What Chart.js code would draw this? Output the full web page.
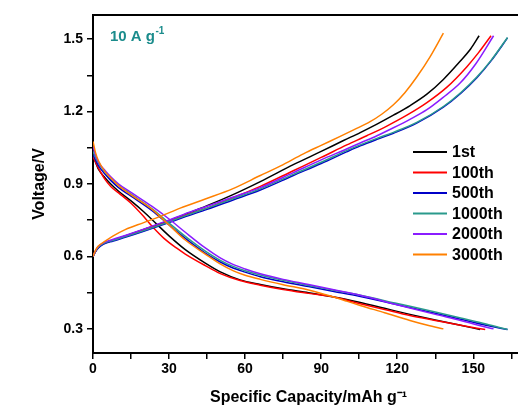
<!DOCTYPE html>
<html>
<head>
<meta charset="utf-8">
<script src="https://cdn.jsdelivr.net/npm/chart.js@4.4.1/dist/chart.umd.min.js"></script>
<style>
    html, body { margin: 0; padding: 0; background: #fff; overflow: hidden; }
    canvas { display: block; }
</style>
</head>
<body>
<canvas id="gcdChart" width="524" height="407"></canvas>
<script>
// Cycle labels and colours
const cycleLabels = ["1st", "100th", "500th", "1000th", "2000th", "3000th"];
const cycleColors = ["#000000", "#ff0000", "#0000c8", "#2a9a8c", "#8a1cff", "#ff8000"];

// Charge curves (capacity mAh/g, voltage V)
const chargeCap1st = [0, 1, 2, 4, 8, 13, 20, 28, 36, 45, 55, 66, 79, 90, 98.8, 105.4, 112, 118.5, 125.1, 131.7, 138.2, 144.8, 149, 152.3];
const chargeV1st = [0.60, 0.622, 0.637, 0.653, 0.668, 0.686, 0.712, 0.741, 0.773, 0.81, 0.855, 0.91, 0.98, 1.035, 1.08, 1.113, 1.148, 1.185, 1.225, 1.272, 1.333, 1.408, 1.46, 1.514];

const chargeCap100th = [0, 1, 2, 4, 8, 13, 20, 28, 36, 45, 55, 66, 79, 90, 100.1, 108, 115.9, 123.8, 131.7, 139.5, 147.4, 152, 157];
const chargeV100th = [0.60, 0.621, 0.636, 0.652, 0.667, 0.684, 0.709, 0.738, 0.769, 0.80, 0.842, 0.89, 0.955, 1.01, 1.062, 1.1, 1.14, 1.185, 1.237, 1.3, 1.385, 1.443, 1.514];

const chargeCap500th = [0, 1, 2, 4, 8, 13, 20, 28, 36, 45, 55, 66, 79, 90, 100, 105.4, 112, 118.5, 127.7, 138.2, 145, 151.4, 157, 163.5];
const chargeV500th = [0.60, 0.62, 0.634, 0.65, 0.664, 0.68, 0.704, 0.733, 0.763, 0.795, 0.833, 0.875, 0.935, 0.985, 1.033, 1.058, 1.085, 1.11, 1.152, 1.218, 1.275, 1.34, 1.41, 1.505];

const chargeCap1000th = [0, 1, 2, 4, 8, 13, 20, 28, 36, 45, 55, 66, 79, 90, 100, 105.4, 112, 118.5, 127.7, 138.2, 145, 151.4, 157, 163.5];
const chargeV1000th = [0.60, 0.622, 0.637, 0.653, 0.667, 0.683, 0.707, 0.736, 0.767, 0.80, 0.838, 0.88, 0.94, 0.99, 1.038, 1.062, 1.089, 1.114, 1.155, 1.221, 1.278, 1.343, 1.412, 1.507];

const chargeCap2000th = [0, 1, 2, 4, 8, 13, 20, 28, 36, 45, 55, 66, 79, 90, 100, 105.4, 112, 118.5, 125, 131.7, 138, 144.8, 151, 158];
const chargeV2000th = [0.60, 0.624, 0.64, 0.656, 0.671, 0.688, 0.713, 0.743, 0.775, 0.808, 0.845, 0.885, 0.947, 1.0, 1.045, 1.07, 1.1, 1.133, 1.168, 1.208, 1.258, 1.318, 1.398, 1.514];

const chargeCap3000th = [0, 1, 2, 4.8, 8, 12.7, 20, 26.6, 34.4, 44.3, 55, 66, 74, 83, 90, 97.5, 103, 109.3, 114, 118.5, 123, 127.7, 133, 138.2];
const chargeV3000th = [0.60, 0.625, 0.642, 0.663, 0.685, 0.711, 0.74, 0.766, 0.80, 0.838, 0.88, 0.935, 0.975, 1.025, 1.06, 1.097, 1.125, 1.158, 1.19, 1.228, 1.278, 1.343, 1.428, 1.525];

// Discharge curves
const dischargeCap1st = [0, 1, 2.2, 4.8, 7, 10.1, 15, 20, 25, 30, 36.4, 44.3, 50, 58, 66, 75, 85, 95, 105, 115, 125, 135, 145, 152.7];
const dischargeV1st = [1.021, 0.99, 0.96, 0.925, 0.9, 0.87, 0.83, 0.785, 0.735, 0.685, 0.628, 0.572, 0.537, 0.503, 0.484, 0.466, 0.45, 0.432, 0.41, 0.385, 0.36, 0.337, 0.315, 0.297];

const dischargeCap100th = [0, 1, 2.2, 4.8, 7, 10.1, 15, 20, 23.3, 28, 32.9, 36.4, 44.3, 50, 58, 66, 75, 85, 95, 105, 115, 125, 135, 145, 154.7];
const dischargeV100th = [1.014, 0.99, 0.965, 0.918, 0.89, 0.863, 0.82, 0.765, 0.725, 0.675, 0.635, 0.61, 0.562, 0.53, 0.5, 0.481, 0.463, 0.447, 0.432, 0.405, 0.38, 0.355, 0.335, 0.315, 0.297];

const dischargeCap500th = [0, 1, 2.2, 4.8, 7, 10.1, 15, 23.3, 30, 36.4, 44.3, 50, 55, 60, 66, 75, 85, 95, 105, 120, 135, 145, 155, 163.5];
const dischargeV500th = [1.021, 1.0, 0.975, 0.94, 0.915, 0.885, 0.85, 0.79, 0.73, 0.675, 0.614, 0.578, 0.553, 0.535, 0.516, 0.495, 0.475, 0.455, 0.435, 0.4, 0.365, 0.34, 0.315, 0.297];

const dischargeCap1000th = [0, 1, 2.2, 4.8, 7, 10.1, 15, 23.3, 30, 36.4, 44.3, 50, 55, 60, 66, 75, 85, 95, 105, 120, 135, 145, 155, 163.5];
const dischargeV1000th = [1.035, 1.01, 0.985, 0.95, 0.925, 0.895, 0.858, 0.797, 0.738, 0.683, 0.622, 0.585, 0.56, 0.541, 0.523, 0.501, 0.48, 0.46, 0.44, 0.405, 0.37, 0.345, 0.32, 0.297];

const dischargeCap2000th = [0, 1, 2.2, 4.8, 7, 10.1, 15, 23.3, 30, 36.4, 44.3, 50, 55, 60, 66, 75, 85, 95, 105, 120, 135, 145, 152, 158];
const dischargeV2000th = [1.056, 1.02, 0.99, 0.955, 0.93, 0.9, 0.865, 0.807, 0.755, 0.70, 0.635, 0.595, 0.568, 0.548, 0.528, 0.505, 0.484, 0.462, 0.44, 0.4, 0.36, 0.335, 0.315, 0.30];

const dischargeCap3000th = [0, 1, 2.2, 4.8, 7, 10.1, 15, 23.3, 30, 36.4, 44.3, 50, 55.4, 60, 66, 75, 85, 92.2, 100, 105.4, 115, 125, 132, 138.2];
const dischargeV3000th = [1.076, 1.03, 0.995, 0.95, 0.925, 0.893, 0.855, 0.795, 0.73, 0.668, 0.61, 0.57, 0.54, 0.522, 0.505, 0.483, 0.461, 0.44, 0.415, 0.397, 0.367, 0.335, 0.315, 0.30];

// Axis ticks
const xTickValues = [0, 15, 30, 45, 60, 75, 90, 105, 120, 135, 150, 165];
const xMajorTicks = [0, 30, 60, 90, 120, 150];
const yTickValues = [0.3, 0.45, 0.6, 0.75, 0.9, 1.05, 1.2, 1.35, 1.5];
const yMajorTicks = [0.3, 0.6, 0.9, 1.2, 1.5];

const chargeCaps = [chargeCap1st, chargeCap100th, chargeCap500th, chargeCap1000th, chargeCap2000th, chargeCap3000th];
const chargeVs = [chargeV1st, chargeV100th, chargeV500th, chargeV1000th, chargeV2000th, chargeV3000th];
const dischargeCaps = [dischargeCap1st, dischargeCap100th, dischargeCap500th, dischargeCap1000th, dischargeCap2000th, dischargeCap3000th];
const dischargeVs = [dischargeV1st, dischargeV100th, dischargeV500th, dischargeV1000th, dischargeV2000th, dischargeV3000th];

const FONT = '"Liberation Sans", Arial, sans-serif';
Chart.defaults.font.family = FONT;
Chart.defaults.color = "#000";

function toPoints(caps, volts) {
    return caps.map((c, i) => ({ x: c, y: volts[i] }));
}

function buildDatasets() {
    const sets = [];
    cycleLabels.forEach((label, i) => {
        const common = {
            borderColor: cycleColors[i],
            borderWidth: 1.5,
            pointRadius: 0,
            fill: false,
            cubicInterpolationMode: "monotone",
            order: cycleLabels.length - i
        };
        sets.push(Object.assign({ label: label + " charge", data: toPoints(chargeCaps[i], chargeVs[i]) }, common));
        sets.push(Object.assign({ label: label + " discharge", data: toPoints(dischargeCaps[i], dischargeVs[i]) }, common));
    });
    return sets;
}

// Frame top line, current label and legend
const decorPlugin = {
    id: "decor",
    afterDraw(chart) {
        const ctx = chart.ctx;
        const area = chart.chartArea;
        ctx.save();

        ctx.strokeStyle = "#000";
        ctx.lineWidth = 2;
        ctx.beginPath();
        ctx.moveTo(area.left, area.top);
        ctx.lineTo(area.right, area.top);
        ctx.stroke();

        // "10 A g-1"
        ctx.fillStyle = "#1b8c8c";
        ctx.textBaseline = "alphabetic";
        ctx.textAlign = "left";
        ctx.font = "bold 15px " + FONT;
        const main = "10 A g";
        ctx.fillText(main, 110, 41);
        const w = ctx.measureText(main).width;
        ctx.font = "bold 10px " + FONT;
        ctx.fillText("-1", 110 + w + 0.5, 34);

        // legend
        ctx.font = "bold 16px " + FONT;
        ctx.textBaseline = "middle";
        cycleLabels.forEach((label, i) => {
            const y = 152 + i * 20.5;
            ctx.strokeStyle = cycleColors[i];
            ctx.lineWidth = 2;
            ctx.beginPath();
            ctx.moveTo(413, y);
            ctx.lineTo(447, y);
            ctx.stroke();
            ctx.fillStyle = "#000";
            ctx.fillText(label, 452, y + 1);
        });
        ctx.restore();
    }
};

const ctx = document.getElementById("gcdChart").getContext("2d");
const gcdChart = new Chart(ctx, {
    type: "line",
    data: { datasets: buildDatasets() },
    plugins: [decorPlugin],
    options: {
        responsive: false,
        animation: false,
        layout: { padding: { top: 15, right: 0, bottom: 0, left: 0 } },
        plugins: {
            legend: { display: false },
            tooltip: { enabled: false }
        },
        scales: {
            x: {
                type: "linear",
                min: 0,
                max: 170,
                afterBuildTicks: (axis) => { axis.ticks = xTickValues.map(v => ({ value: v })); },
                afterFit: (scale) => { scale.height = 54; },
                ticks: {
                    autoSkip: false,
                    maxRotation: 0,
                    padding: 2,
                    font: { size: 14, weight: "bold" },
                    callback: (value) => xMajorTicks.includes(value) ? String(value) : ""
                },
                grid: { drawOnChartArea: false, tickLength: 6, color: "#000", lineWidth: 1.5 },
                border: { display: true, color: "#000", width: 2 },
                title: {
                    display: true,
                    text: "Specific Capacity/mAh g⁻¹",
                    font: { size: 16, weight: "bold" },
                    padding: { top: 0, bottom: 0 }
                }
            },
            y: {
                type: "linear",
                min: 0.2,
                max: 1.6,
                afterBuildTicks: (axis) => { axis.ticks = yTickValues.map(v => ({ value: v })); },
                afterFit: (scale) => { scale.width = 93; },
                ticks: {
                    autoSkip: false,
                    padding: 4,
                    font: { size: 14, weight: "bold" },
                    callback: (value) => yMajorTicks.includes(value) ? value.toFixed(1) : ""
                },
                grid: { drawOnChartArea: false, tickLength: 6, color: "#000", lineWidth: 1.5 },
                border: { display: true, color: "#000", width: 2 },
                title: {
                    display: true,
                    text: "Voltage/V",
                    font: { size: 16, weight: "bold" },
                    padding: { top: 30, bottom: 0 }
                }
            }
        }
    }
});
</script>
</body>
</html>
